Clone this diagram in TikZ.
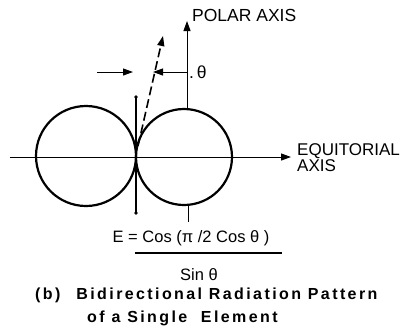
\documentclass[tikz,border=0pt]{standalone}
\usepackage{fontspec}
\setmainfont{Liberation Sans}
\newfontfamily\capfont[LetterSpace=15]{Liberation Sans Bold}
\usepackage{tikz}
\usetikzlibrary{positioning,arrows.meta}

\begin{document}
\begin{tikzpicture}[x=1pt,y=-1pt,
  axisline/.style={line width=1pt, -{Triangle[length=10pt,width=7pt]}},
  lobe/.style={line width=2.2pt},
  label/.style={inner sep=0pt, font=\fontsize{17.5}{18}\selectfont},
  caption/.style={inner sep=0pt, anchor=west, font=\capfont\fontsize{16}{18}\selectfont}]
  \useasboundingbox (0,0) rectangle (409,330);
  % Points
  \coordinate (o) at (136,157);
  \coordinate (eqstart) at (10,157);
  \coordinate (eqend) at (291,157);
  \coordinate (poletop) at (187,21);
  \coordinate (polebot) at (187,108);
  \coordinate (elemtop) at (136,97);
  \coordinate (elembot) at (136,213);
  \coordinate (dashfrom) at (138,146);
  \coordinate (dashto) at (163,36);
  \coordinate (leftfrom) at (97,72);
  \coordinate (leftto) at (133,72);
  \coordinate (rightfrom) at (187,72);
  \coordinate (rightto) at (153,72);
  \coordinate (ticktop) at (188,205);
  \coordinate (tickbot) at (188,222);
  % Lobes
  \draw[lobe] (86,156) circle[radius=50];
  \draw[lobe] (184,157) circle[radius=48];
  % Axes
  \draw[axisline] (eqstart) -- (eqend);
  \draw[axisline] (polebot) -- (poletop);
  \draw[axisline, dash pattern=on 9pt off 4pt, line width=1.6pt] (dashfrom) -- (dashto);
  \draw[axisline] (leftfrom) -- (leftto);
  \draw[axisline] (rightfrom) -- (rightto);
  % Element
  \draw[line width=2pt] (elemtop) -- (o);
  \draw[line width=1.4pt] (o) -- (elembot);
  \fill (elemtop) circle[radius=1.8];
  \fill (elembot) circle[radius=1.8];
  \draw[line width=1pt] (ticktop) -- (tickbot);
  % Labels
  \node[label, anchor=west] (polar) at (192,15) {POLAR AXIS};
  \node[label, anchor=west] (theta) at (189,72) {.\,θ};
  \node[label, anchor=west, align=left, font=\fontsize{17}{16}\selectfont] (equit) at (297,158) {EQUITORIAL\\AXIS};
  \node[label, font=\fontsize{16.5}{18}\selectfont] (num) at (191,238) {E = Cos (π /2 Cos θ )};
  \coordinate (barleft) at (135,253);
  \coordinate (barright) at (282,253);
  \draw[line width=1.2pt] (barleft) -- (barright);
  \node[label, font=\fontsize{16.5}{18}\selectfont] (den) at (199,275) {Sin θ};
  \node[caption] (cap1) at (35,295) {(b)\quad Bidirectional Radiation Pattern};
  \node[caption] (cap2) at (87,318) {of a Single\ \ Element};
\end{tikzpicture}
\end{document}
